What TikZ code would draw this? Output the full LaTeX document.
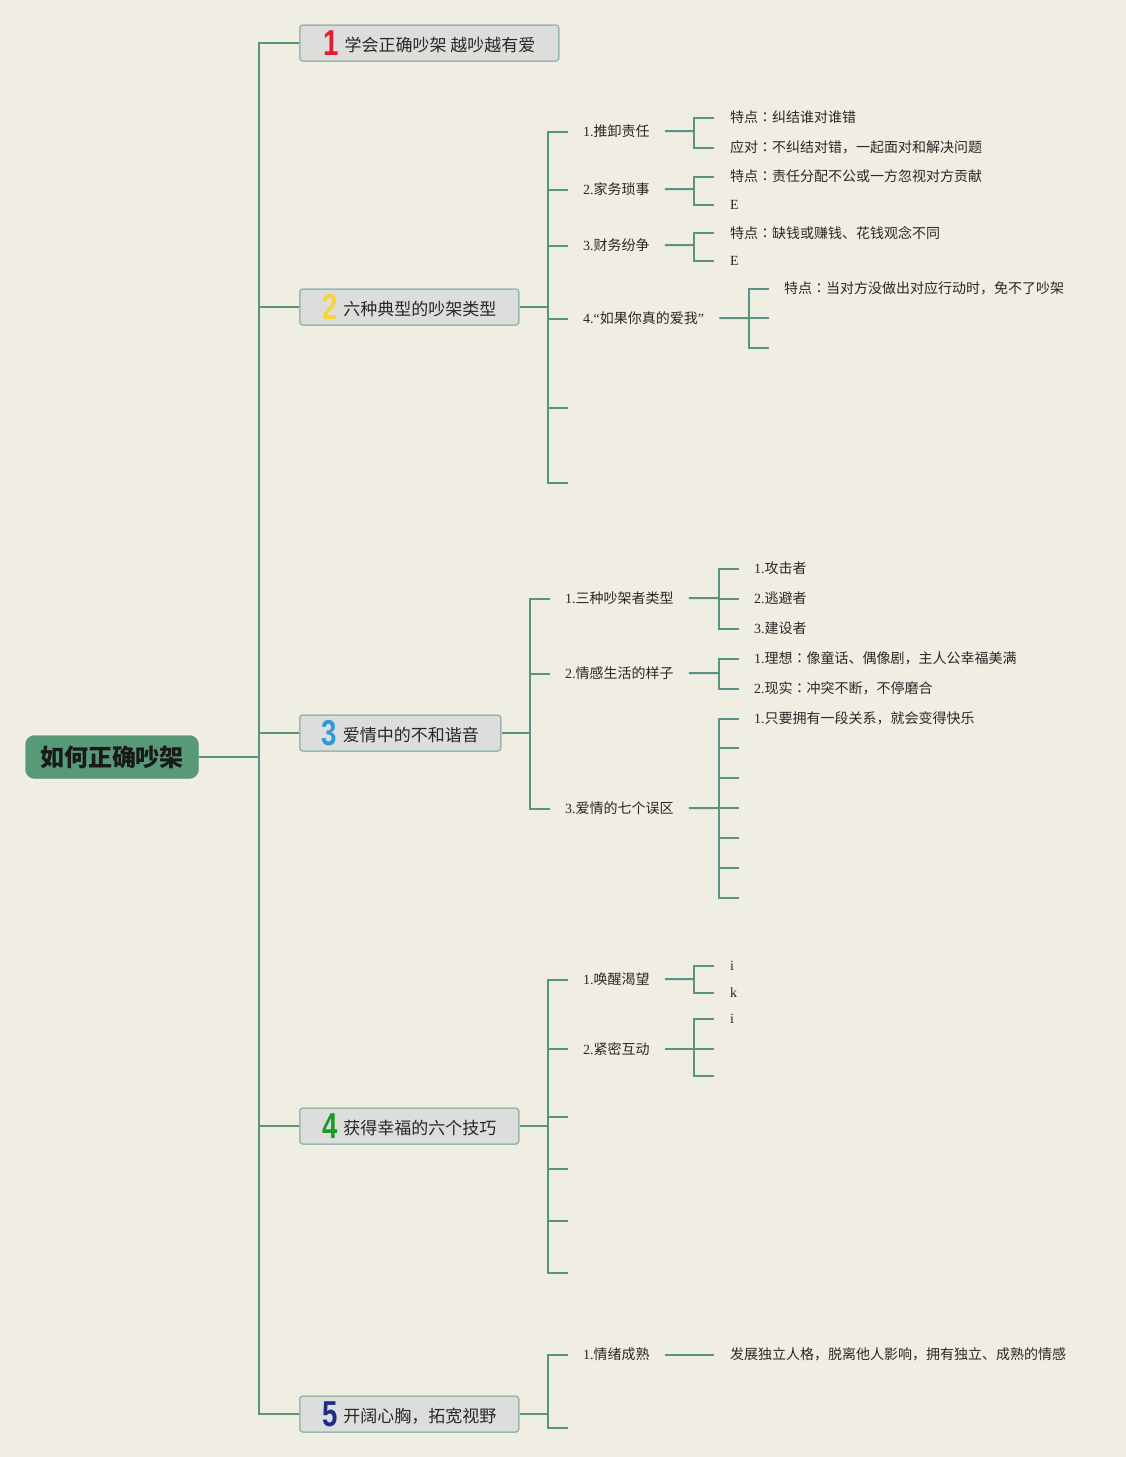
\documentclass[tikz,border=0pt]{standalone}
\usepackage{fontspec}
\setmainfont{Liberation Serif}
\newfontfamily\cjk{Noto Sans CJK SC}
\newfontfamily\cjktc{Noto Sans CJK TC}
\newfontfamily\numfont{Liberation Sans}
\usetikzlibrary{positioning,calc}
\definecolor{paper}{RGB}{240,237,227}
\definecolor{linkc}{RGB}{88,148,132}
\definecolor{rootc}{RGB}{88,154,120}
\definecolor{boxfill}{RGB}{221,221,220}
\definecolor{boxline}{RGB}{150,186,176}
\definecolor{textc}{RGB}{40,40,40}
\definecolor{tred}{RGB}{222,30,46}
\definecolor{tyellow}{RGB}{244,214,52}
\definecolor{tblue}{RGB}{40,155,224}
\definecolor{tgreen}{RGB}{26,154,42}
\definecolor{tnavy}{RGB}{30,44,138}
\newcommand\zh[1]{{\cjk #1}}
\newcommand\cln{{\cjktc ：}}
\newcommand\topicnum[2]{\raisebox{-4pt}{\numfont\bfseries\fontsize{30}{30}\selectfont\color{#1}\scalebox{0.92}[1.2]{#2}}}

\begin{document}
\begin{tikzpicture}[x=1pt, y=-1pt,
            link/.style={draw=linkc, line width=2pt},
            rootbox/.style={rectangle, fill=rootc, draw=rootc, rounded corners=9pt, minimum width=173pt, minimum height=43pt,
            text=black!90, font=\fontsize{24}{28}\selectfont\cjk\bfseries},
            topic/.style={rectangle, draw=boxline, fill=boxfill, rounded corners=3pt, line width=1.5pt, anchor=west,
            minimum height=36pt, inner xsep=0pt, text=textc, font=\fontsize{17}{20}\selectfont\cjk},
            sub/.style={anchor=west, inner xsep=15pt, inner ysep=2pt, yshift=-0.6pt, text=textc, font=\fontsize{14}{16}\selectfont},
            leaf/.style={sub}]
            \fill [paper] (0,0) rectangle (1126,1457);
            \useasboundingbox (0,0) rectangle (1126,1457);

            \node (root) [rootbox] at (112,757) {如何正确吵架};

            \node (b1) [topic, minimum width=259pt] at (299,43) {\topicnum{tred}{1}\hspace{6pt}学会正确吵架 越吵越有爱};
            \node (b2) [topic, minimum width=219pt] at (299,307) {\topicnum{tyellow}{2}\hspace{6pt}六种典型的吵架类型};
            \node (b3) [topic, minimum width=201pt] at (299,733) {\topicnum{tblue}{3}\hspace{6pt}爱情中的不和谐音};
            \node (b4) [topic, minimum width=219pt] at (299,1126) {\topicnum{tgreen}{4}\hspace{6pt}获得幸福的六个技巧};
            \node (b5) [topic, minimum width=219pt] at (299,1414) {\topicnum{tnavy}{5}\hspace{6pt}开阔心胸，拓宽视野};

            \coordinate (f0) at (259,757);
            \draw [link] (root) -- (f0);
            \draw [link] (f0) |- (b1.west);
            \draw [link] (f0) |- (b2.west);
            \draw [link] (f0) |- (b3.west);
            \draw [link] (f0) |- (b4.west);
            \draw [link] (f0) |- (b5.west);

            % 2 六种典型的吵架类型
            \coordinate (f2) at (548,307);
            \node (s21) [sub] at (568,131) {1.\zh{推卸责任}};
            \node (s22) [sub] at (568,189) {2.\zh{家务琐事}};
            \node (s23) [sub] at (568,245) {3.\zh{财务纷争}};
            \node (s24) [sub] at (568,318) {4.“\zh{如果你真的爱我}”};
            \coordinate (e25) at (568,408);
            \coordinate (e26) at (568,483);
            \draw [link] (b2) -- (f2);
            \draw [link] (f2) |- (s21.west);
            \draw [link] (f2) |- (s22.west);
            \draw [link] (f2) |- (s23.west);
            \draw [link] (f2) |- (s24.west);
            \draw [link] (f2) |- (e25);
            \draw [link] (f2) |- (e26);

            \coordinate (g21) at (694,131);
            \node (l211) [leaf, inner xsep=16pt] at (714,117) {\zh{特点\cln 纠结谁对谁错}};
            \node (l212) [leaf, inner xsep=16pt] at (714,147) {\zh{应对\cln 不纠结对错，一起面对和解决问题}};
            \draw [link] (s21) -- (g21);
            \draw [link] (g21) |- (l211.west);
            \draw [link] (g21) |- (l212.west);

            \coordinate (g22) at (694,189);
            \node (l221) [leaf, inner xsep=16pt] at (714,176) {\zh{特点\cln 责任分配不公或一方忽视对方贡献}};
            \node (l222) [leaf, inner xsep=16pt] at (714,204) {E};
            \draw [link] (s22) -- (g22);
            \draw [link] (g22) |- (l221.west);
            \draw [link] (g22) |- (l222.west);

            \coordinate (g23) at (694,245);
            \node (l231) [leaf, inner xsep=16pt] at (714,232) {\zh{特点\cln 缺钱或赚钱、花钱观念不同}};
            \node (l232) [leaf, inner xsep=16pt] at (714,260) {E};
            \draw [link] (s23) -- (g23);
            \draw [link] (g23) |- (l231.west);
            \draw [link] (g23) |- (l232.west);

            \coordinate (g24) at (749,318);
            \node (l241) [leaf] at (769,288) {\zh{特点\cln 当对方没做出对应行动时，免不了吵架}};
            \coordinate (e242) at (769,318);
            \coordinate (e243) at (769,348);
            \draw [link] (s24) -- (g24);
            \draw [link] (g24) |- (l241.west);
            \draw [link] (g24) |- (e242);
            \draw [link] (g24) |- (e243);

            % 3 爱情中的不和谐音
            \coordinate (f3) at (530,733);
            \node (s31) [sub] at (550,598) {1.\zh{三种吵架者类型}};
            \node (s32) [sub] at (550,673) {2.\zh{情感生活的样子}};
            \node (s33) [sub] at (550,808) {3.\zh{爱情的七个误区}};
            \draw [link] (b3) -- (f3);
            \draw [link] (f3) |- (s31.west);
            \draw [link] (f3) |- (s32.west);
            \draw [link] (f3) |- (s33.west);

            \coordinate (g31) at (719,598);
            \node (l311) [leaf] at (739,568) {1.\zh{攻击者}};
            \node (l312) [leaf] at (739,598) {2.\zh{逃避者}};
            \node (l313) [leaf] at (739,628) {3.\zh{建设者}};
            \draw [link] (s31) -- (g31);
            \draw [link] (g31) |- (l311.west);
            \draw [link] (g31) |- (l312.west);
            \draw [link] (g31) |- (l313.west);

            \coordinate (g32) at (719,673);
            \node (l321) [leaf] at (739,658) {1.\zh{理想\cln 像童话、偶像剧，主人公幸福美满}};
            \node (l322) [leaf] at (739,688) {2.\zh{现实\cln 冲突不断，不停磨合}};
            \draw [link] (s32) -- (g32);
            \draw [link] (g32) |- (l321.west);
            \draw [link] (g32) |- (l322.west);

            \coordinate (g33) at (719,808);
            \node (l331) [leaf] at (739,718) {1.\zh{只要拥有一段关系，就会变得快乐}};
            \coordinate (e332) at (739,748);
            \coordinate (e333) at (739,778);
            \coordinate (e334) at (739,808);
            \coordinate (e335) at (739,838);
            \coordinate (e336) at (739,868);
            \coordinate (e337) at (739,898);
            \draw [link] (s33) -- (g33);
            \draw [link] (g33) |- (l331.west);
            \draw [link] (g33) |- (e332);
            \draw [link] (g33) |- (e333);
            \draw [link] (g33) |- (e334);
            \draw [link] (g33) |- (e335);
            \draw [link] (g33) |- (e336);
            \draw [link] (g33) |- (e337);

            % 4 获得幸福的六个技巧
            \coordinate (f4) at (548,1126);
            \node (s41) [sub] at (568,979) {1.\zh{唤醒渴望}};
            \node (s42) [sub] at (568,1048) {2.\zh{紧密互动}};
            \coordinate (e43) at (568,1117);
            \coordinate (e44) at (568,1169);
            \coordinate (e45) at (568,1221);
            \coordinate (e46) at (568,1273);
            \draw [link] (b4) -- (f4);
            \draw [link] (f4) |- (s41.west);
            \draw [link] (f4) |- (s42.west);
            \draw [link] (f4) |- (e43);
            \draw [link] (f4) |- (e44);
            \draw [link] (f4) |- (e45);
            \draw [link] (f4) |- (e46);

            \coordinate (g41) at (694,979);
            \node (l411) [leaf, inner xsep=16pt] at (714,965) {i};
            \node (l412) [leaf, inner xsep=16pt] at (714,992) {k};
            \draw [link] (s41) -- (g41);
            \draw [link] (g41) |- (l411.west);
            \draw [link] (g41) |- (l412.west);

            \coordinate (g42) at ($(s42.east -| 694,0)$);
            \node (l421) [leaf, inner xsep=16pt] at (714,1018) {i};
            \coordinate (e422) at ($(s42.east -| 714,0)$);
            \coordinate (e423) at (714,1076);
            \draw [link] (s42) -- (g42);
            \draw [link] (g42) |- (l421.west);
            \draw [link] (g42) |- (e422);
            \draw [link] (g42) |- (e423);

            % 5 开阔心胸，拓宽视野
            \coordinate (f5) at (548,1414);
            \node (s51) [sub] at (568,1354) {1.\zh{情绪成熟}};
            \coordinate (e52) at (568,1428);
            \draw [link] (b5) -- (f5);
            \draw [link] (f5) |- (s51.west);
            \draw [link] (f5) |- (e52);

            \node (l511) [leaf, inner xsep=16pt] at (714,1354) {\zh{发展独立人格，脱离他人影响，拥有独立、成熟的情感}};
            \draw [link] (s51) -- (l511);
        \end{tikzpicture}
\end{document}
